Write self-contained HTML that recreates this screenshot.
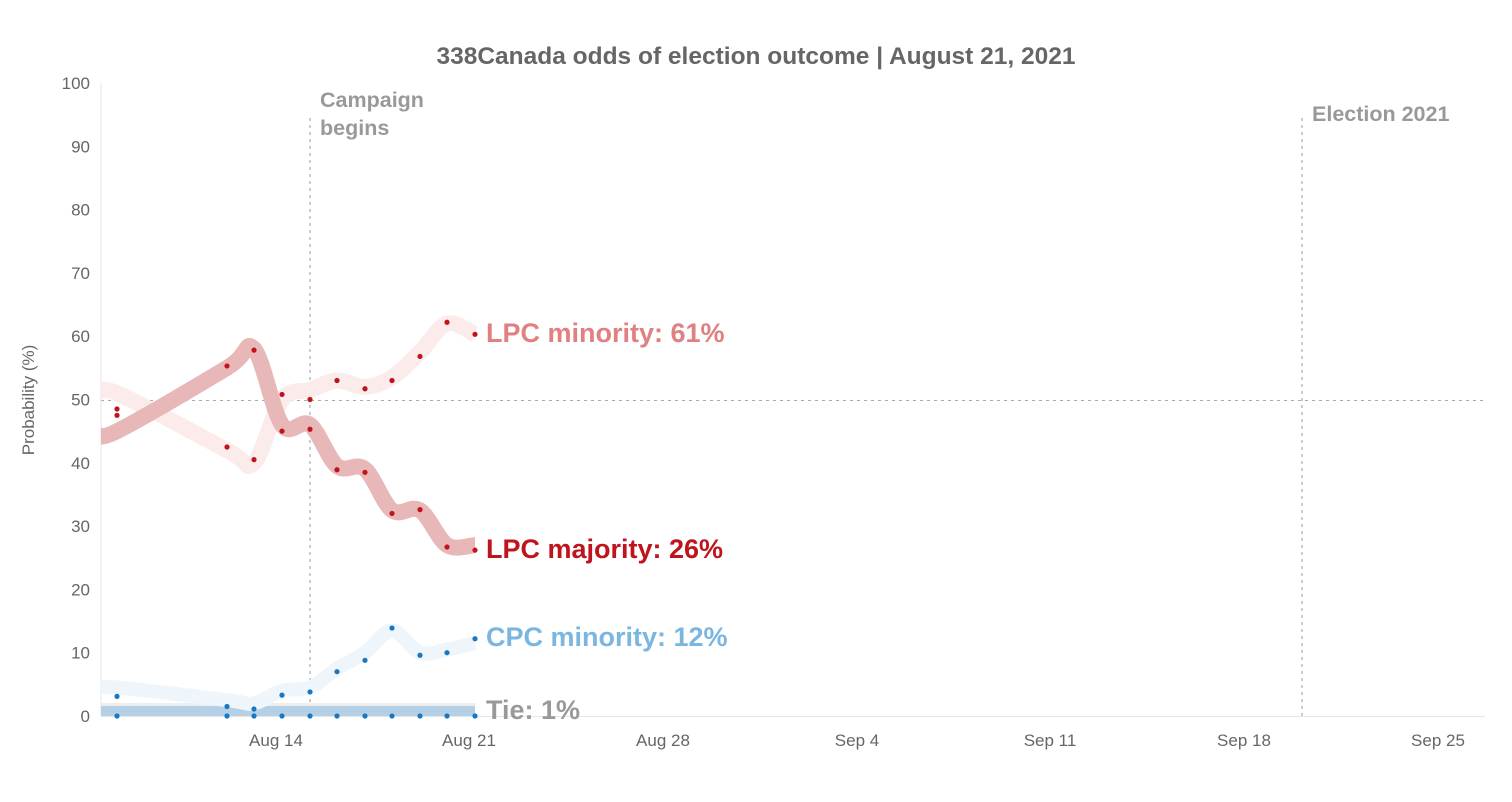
<!DOCTYPE html>
<html><head><meta charset="utf-8"><style>
html,body{margin:0;padding:0;background:#fff;}
svg{display:block;font-family:"Liberation Sans",Arial,sans-serif;}
</style></head><body>
<svg id="s" width="1512" height="802" viewBox="0 0 1512 802">
<defs><clipPath id="c"><rect x="101" y="80" width="1400" height="640"/></clipPath></defs>
<text x="756" y="64" text-anchor="middle" font-size="24.5" font-weight="bold" fill="#666">338Canada odds of election outcome | August 21, 2021</text>
<line x1="101" y1="83" x2="101" y2="716" stroke="#e6e6e6"/>
<line x1="101" y1="716.5" x2="1485" y2="716.5" stroke="#e6e6e6"/>
<g font-size="17" fill="#666" text-anchor="end" id="yt"></g>
<text transform="translate(34,400) rotate(-90)" text-anchor="middle" font-size="17" fill="#666">Probability (%)</text>
<g font-size="17" fill="#666" text-anchor="middle">
<text x="276" y="746">Aug 14</text><text x="469" y="746">Aug 21</text><text x="663" y="746">Aug 28</text>
<text x="857" y="746">Sep 4</text><text x="1050" y="746">Sep 11</text><text x="1244" y="746">Sep 18</text><text x="1438" y="746">Sep 25</text>
</g>
<line x1="101" y1="400.5" x2="1485" y2="400.5" stroke="#aaa" stroke-dasharray="3,4"/>
<line x1="310" y1="118" x2="310" y2="716" stroke="#999" stroke-dasharray="3,4"/>
<line x1="1302" y1="118" x2="1302" y2="716" stroke="#999" stroke-dasharray="3,4"/>
<text x="320" y="107" font-size="21.5" font-weight="bold" fill="#999">Campaign</text>
<text x="320" y="135" font-size="21.5" font-weight="bold" fill="#999">begins</text>
<text x="1312" y="121" font-size="21.5" font-weight="bold" fill="#999">Election 2021</text>
<rect x="101" y="703" width="374" height="13" fill="#eeeeee"/>
<rect x="101" y="706" width="374" height="10" fill="#b3d0e6"/>
<g id="bands" clip-path="url(#c)"></g>
<g id="pts"></g>
<text x="486" y="342" font-size="27" font-weight="bold" fill="#e08080">LPC minority: 61%</text>
<text x="486" y="558" font-size="27" font-weight="bold" fill="#c0141c">LPC majority: 26%</text>
<text x="486" y="646" font-size="27" font-weight="bold" fill="#7ab6e0">CPC minority: 12%</text>
<text x="486" y="719" font-size="27" font-weight="bold" fill="#999">Tie: 1%</text>
</svg>
<script>
var NS="http://www.w3.org/2000/svg";
function el(t,a,p){var e=document.createElementNS(NS,t);for(var k in a)e.setAttribute(k,a[k]);p.appendChild(e);return e;}
var yt=document.getElementById('yt');
for(var i=0;i<=10;i++){var t=el('text',{x:90,y:716-i*63.3+6},yt);t.textContent=i*10;}
function Y(v){return 716-v*6.33;}
var X=[117,227,254,282,310,337,365,392,420,447,475];
function path(pts){var d="M"+pts[0][0]+","+pts[0][1];
for(var i=0;i<pts.length-1;i++){var p0=pts[i-1]||pts[i],p1=pts[i],p2=pts[i+1],p3=pts[i+2]||p2;
d+=" C"+(p1[0]+(p2[0]-p0[0])/6)+","+(p1[1]+(p2[1]-p0[1])/6)+" "+(p2[0]-(p3[0]-p1[0])/6)+","+(p2[1]-(p3[1]-p1[1])/6)+" "+p2[0]+","+p2[1];}
return d;}
var B=document.getElementById('bands'),P=document.getElementById('pts');
var series=[
 {v:[48.5,42.5,40.5,50.8,50,53,51.7,53,56.8,62.2,60.3],s:[51,42,40,50,51.5,53,52,53.5,57.5,62,60.3],c:"#fbeceb",w:16,pc:"#c0141c"},
 {v:[47.5,55.3,57.8,45,45.3,38.9,38.5,32,32.6,26.7,26.2],s:[45,55,58,46,46,39.5,39,32.5,32.5,27,27],c:"#e8b8b8",w:16,pc:"#c0141c"},
 {v:[3.1,1.5,1.1,3.3,3.8,7,8.8,13.9,9.6,10,12.2],s:[4.5,2.5,2,4,4.5,7.5,10,13.5,10,10.5,11.5],c:"#eef5fb",w:14,pc:"#1a78c2"}
];
series.forEach(function(sr){
 var pts=[[95,Y(sr.s[0]-0.3)]];for(var i=0;i<X.length;i++)pts.push([X[i],Y(sr.s[i])]);
 el('path',{d:path(pts),fill:"none",stroke:sr.c,"stroke-width":sr.w,"stroke-linejoin":"round"},B);
});
series.forEach(function(sr){for(var i=0;i<X.length;i++)el('circle',{cx:X[i],cy:Y(sr.v[i]),r:2.6,fill:sr.pc},P);});
for(var i=0;i<X.length;i++){el('circle',{cx:X[i],cy:716,r:2.6,fill:"#1a78c2"},P);}
</script>
</body></html>
